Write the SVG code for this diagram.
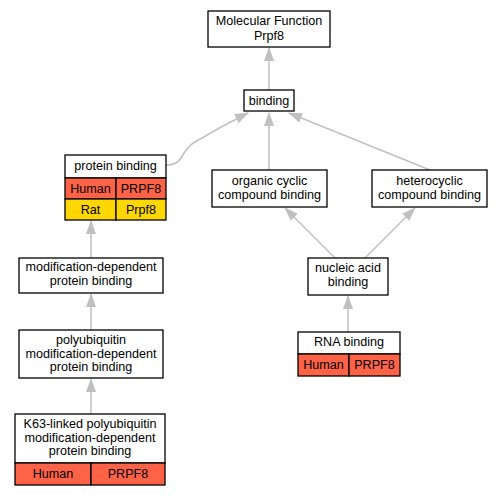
<svg xmlns="http://www.w3.org/2000/svg" width="503" height="496" viewBox="0 0 503 496">
<defs>
<marker id="arr" markerWidth="14" markerHeight="10" refX="13" refY="5" orient="auto" markerUnits="userSpaceOnUse">
<path d="M0,0 L14,5 L0,10 Z" fill="#c0c0c0"/>
</marker>
<style>
.box{fill:#fff;stroke:#000;stroke-width:1.3}
.hum{fill:#ff6347;stroke:#000;stroke-width:1.3}
.rat{fill:#ffd700;stroke:#000;stroke-width:1.3}
text{font-family:"Liberation Sans",Arial,sans-serif;font-size:12.6px;text-anchor:middle;fill:#000}
.e{fill:none;stroke:#c0c0c0;stroke-width:1.5;marker-end:url(#arr)}
</style>
</defs>
<rect width="503" height="496" fill="#fff"/>
<g id="edges">
<path class="e" d="M269,90 L269,48"/>
<path class="e" d="M166,165 C185,165 180,150 195,142 C215,130 230,122 248,113"/>
<path class="e" d="M269,170 L269,113"/>
<path class="e" d="M430,170 L289,113"/>
<path class="e" d="M335,258 L285,208"/>
<path class="e" d="M365,258 L415,208"/>
<path class="e" d="M348,332 L348,296"/>
<path class="e" d="M91,258 L91,221"/>
<path class="e" d="M91,330 L91,294"/>
<path class="e" d="M91,414 L91,379"/>
</g>
<g id="mf">
<rect class="box" x="208" y="11" width="122" height="36"/>
<text x="269" y="25">Molecular Function</text>
<text x="269" y="40">Prpf8</text>
</g>
<g id="binding">
<rect class="box" x="244" y="90" width="50" height="21"/>
<text x="269" y="105">binding</text>
</g>
<g id="protein_binding">
<rect class="box" x="65" y="155" width="101" height="23"/>
<text x="115.5" y="170">protein binding</text>
<rect class="hum" x="65" y="178" width="51" height="21"/>
<rect class="hum" x="116" y="178" width="50" height="21"/>
<text x="90.5" y="193">Human</text>
<text x="141" y="193">PRPF8</text>
<rect class="rat" x="65" y="199" width="51" height="21"/>
<rect class="rat" x="116" y="199" width="50" height="21"/>
<text x="90.5" y="214">Rat</text>
<text x="141" y="214">Prpf8</text>
</g>
<g id="organic">
<rect class="box" x="212" y="170" width="115" height="37"/>
<text x="269.5" y="185">organic cyclic</text>
<text x="269.5" y="199">compound binding</text>
</g>
<g id="hetero">
<rect class="box" x="372" y="170" width="115" height="37"/>
<text x="429.5" y="185">heterocyclic</text>
<text x="429.5" y="199">compound binding</text>
</g>
<g id="nucleic">
<rect class="box" x="308" y="258" width="80" height="37"/>
<text x="348" y="272">nucleic acid</text>
<text x="348" y="286">binding</text>
</g>
<g id="rna">
<rect class="box" x="298" y="332" width="102" height="22"/>
<text x="349" y="346">RNA binding</text>
<rect class="hum" x="298" y="354" width="51" height="22"/>
<rect class="hum" x="349" y="354" width="51" height="22"/>
<text x="323.5" y="369">Human</text>
<text x="374.5" y="369">PRPF8</text>
</g>
<g id="moddep">
<rect class="box" x="19" y="258" width="144" height="35"/>
<text x="91" y="271">modification-dependent</text>
<text x="91" y="285">protein binding</text>
</g>
<g id="polyub">
<rect class="box" x="19" y="330" width="144" height="48"/>
<text x="91" y="344">polyubiquitin</text>
<text x="91" y="358">modification-dependent</text>
<text x="91" y="371">protein binding</text>
</g>
<g id="k63">
<rect class="box" x="15" y="414" width="150" height="49"/>
<text x="90" y="428">K63-linked polyubiquitin</text>
<text x="90" y="442">modification-dependent</text>
<text x="90" y="455">protein binding</text>
<rect class="hum" x="15" y="463" width="76" height="22"/>
<rect class="hum" x="91" y="463" width="74" height="22"/>
<text x="53" y="478">Human</text>
<text x="128" y="478">PRPF8</text>
</g>
</svg>
